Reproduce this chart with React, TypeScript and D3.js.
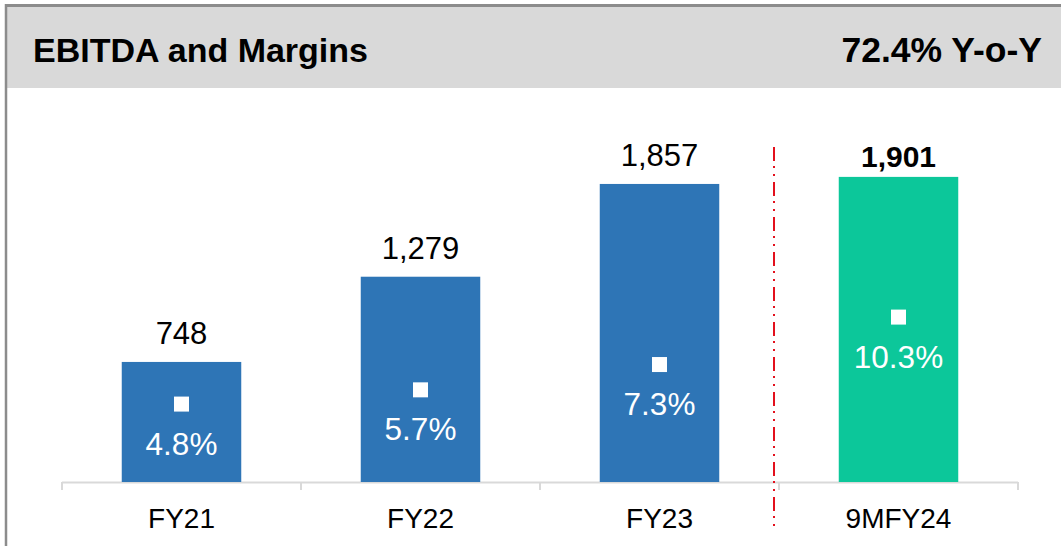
import React from "react";
import * as d3 from "d3";

const categories = ["FY21", "FY22", "FY23", "9MFY24"];
const ebitda = [748, 1279, 1857, 1901];
const margins = [4.8, 5.7, 7.3, 10.3];
const valueLabels = ["748", "1,279", "1,857", "1,901"];
const marginLabels = ["4.8%", "5.7%", "7.3%", "10.3%"];
const highlighted = [false, false, false, true];
const title = "EBITDA and Margins";
const growth = "72.4% Y-o-Y";

const W = 1061;
const H = 546;
const FONT = "'Liberation Sans', Arial, Helvetica, sans-serif";

export default function App() {
  const baseY = 482;
  const x = d3.scaleBand<string>().domain(categories).range([62, 1018]).paddingInner(0.5).paddingOuter(0.25);
  const y = d3.scaleLinear().domain([0, 2000]).range([baseY, baseY - 321]);
  const yM = d3.scaleLinear().domain([0, 12]).range([480, 290.2]);
  const step = x.step();
  const bw = x.bandwidth();
  const boundaries = d3.range(categories.length + 1).map((i) => 62 + i * step);
  const sepX = (x("FY23")! + bw + x("9MFY24")!) / 2 - 5;

  return (
    <svg width={W} height={H} style={{ position: "absolute", left: 0, top: 0, background: "#fff" }} fontFamily={FONT}>
      <rect x={0} y={0} width={W} height={H} fill="#fff" />
      {/* header */}
      <rect x={7} y={7} width={W - 7} height={81} fill="#d9d9d9" />
      <line x1={5} x2={W} y1={5.5} y2={5.5} stroke="#8c8c8c" strokeWidth={3} />
      <line x1={6} x2={6} y1={4} y2={H} stroke="#8c8c8c" strokeWidth={2.5} />
      <text x={33} y={62} fontSize={34} fontWeight="bold" fill="#000">{title}</text>
      <text x={1042} y={62} fontSize={35.5} fontWeight="bold" fill="#000" textAnchor="end">{growth}</text>

      {/* axis */}
      <line x1={62} x2={1018} y1={baseY + 0.5} y2={baseY + 0.5} stroke="#d9d9d9" strokeWidth={2} />
      {boundaries.map((bx, i) => (
        <line key={i} x1={bx} x2={bx} y1={baseY} y2={490} stroke="#d9d9d9" strokeWidth={2} />
      ))}

      {/* bars */}
      {categories.map((c, i) => (
        <rect key={c} x={x(c)} y={y(ebitda[i])} width={bw} height={baseY - y(ebitda[i])}
          fill={highlighted[i] ? "#0cc79a" : "#2e75b6"} />
      ))}

      {/* value labels */}
      {categories.map((c, i) => (
        <text key={c} x={x(c)! + bw / 2} y={y(ebitda[i]) - (highlighted[i] ? 10 : 18)}
          fontSize={highlighted[i] ? 30 : 31} fontWeight={highlighted[i] ? "bold" : "normal"} textAnchor="middle" fill="#000">
          {valueLabels[i]}
        </text>
      ))}

      {/* margin markers */}
      {categories.map((c, i) => (
        <g key={c}>
          <rect x={x(c)! + bw / 2 - 7.5} y={yM(margins[i]) - 7.5} width={15} height={15} fill="#fff" />
          <text x={x(c)! + bw / 2} y={yM(margins[i]) + 50.5} fontSize={31.5} textAnchor="middle" fill="#fff">
            {marginLabels[i]}
          </text>
        </g>
      ))}

      {/* category labels */}
      {categories.map((c) => (
        <text key={c} x={x(c)! + bw / 2} y={528} fontSize={28} textAnchor="middle" fill="#000">{c}</text>
      ))}

      {/* separator */}
      <line x1={sepX} x2={sepX} y1={147} y2={528} stroke="#e3101c" strokeWidth={2} strokeDasharray="14 5 2 6 2 6" />
    </svg>
  );
}
